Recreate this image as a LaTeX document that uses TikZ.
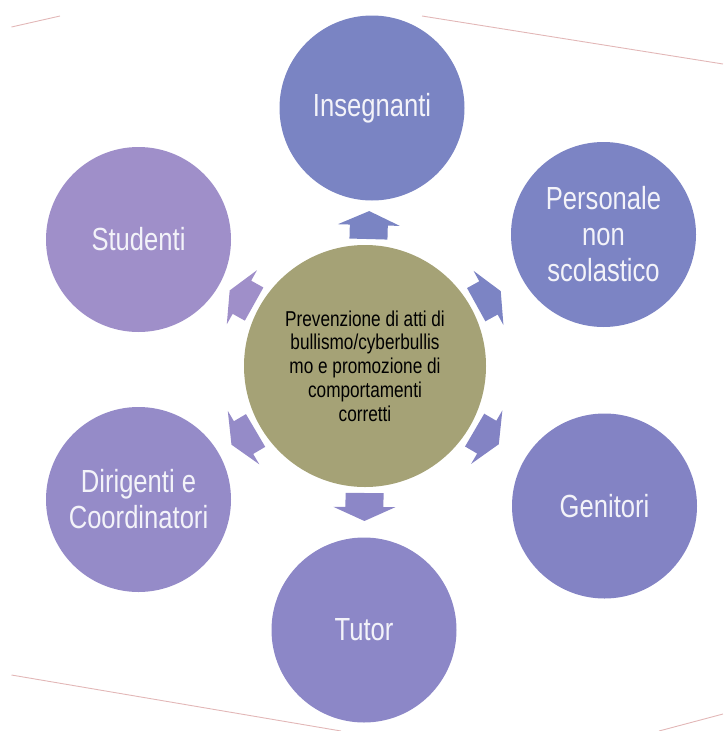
\documentclass[tikz,border=0pt]{standalone}
\usepackage{fontspec}
\usetikzlibrary{calc}

\newfontfamily\narrowfont[FakeStretch=0.8]{Liberation Sans}
\newfontfamily\ctrfont[FakeStretch=0.8]{Liberation Sans}

\definecolor{colIns}{HTML}{7A84C3}
\definecolor{colPer}{HTML}{7C84C4}
\definecolor{colGen}{HTML}{8383C4}
\definecolor{colTut}{HTML}{8C87C7}
\definecolor{colDir}{HTML}{958BC8}
\definecolor{colStu}{HTML}{9F8FC9}
\definecolor{colCtr}{HTML}{A5A276}
\definecolor{colTxt}{HTML}{F3F3F9}
\definecolor{colDeco}{HTML}{E2B7B7}

\tikzset{
  outer/.style={circle, minimum size=185pt, inner sep=0pt, align=center,
    text=colTxt, font=\narrowfont\fontsize{32}{36}\selectfont},
  centre/.style={circle, minimum size=242pt, inner sep=0pt, align=center,
    fill=colCtr, text=black, font=\ctrfont\fontsize{21.5}{23.8}\selectfont},
  deco/.style={colDeco, line width=0.9pt}
}

\begin{document}
\begin{tikzpicture}[x=1pt, y=-1pt]

\useasboundingbox (0,0) rectangle (723,731);

% background frame lines
  \draw[deco] (11.5,27) -- (60,16);
  \draw[deco] (422,16) -- (723,64);
  \draw[deco] (11.5,675) -- (341,731);
  \draw[deco] (659,731) -- (723,714);

% centre
  \node[centre] (ctr) at (365,366) {Prevenzione di atti di\\bullismo/cyberbullis\\mo e promozione di\\comportamenti\\corretti};

% outer circles
  \node[outer, fill=colIns] (ins) at (372,108) {Insegnanti};
  \node[outer, fill=colPer] (per) at (603.5,234.5) {Personale\\non\\scolastico};
  \node[outer, fill=colGen] (gen) at (604.5,506) {Genitori};
  \node[outer, fill=colTut] (tut) at (364,630) {Tutor};
  \node[outer, fill=colDir] (dir) at (138.5,499.5) {Dirigenti e\\Coordinatori};
  \node[outer, fill=colStu] (stu) at (138.5,239.5) {Studenti};

% block arrows
  \foreach \nd/\col in {ins/colIns, per/colPer, gen/colGen, tut/colTut, dir/colDir, stu/colStu}{
    \coordinate (a0) at ($(ctr)!127pt!(\nd)$);
    \coordinate (a1) at ($(ctr)!141pt!(\nd)$);
    \coordinate (a2) at ($(ctr)!155pt!(\nd)$);
    \fill[\col] ($(a0)!19pt!90:(\nd)$) -- ($(a1)!19pt!90:(\nd)$) -- ($(a1)!31pt!90:(\nd)$)
      -- (a2) -- ($(a1)!31pt!-90:(\nd)$) -- ($(a1)!19pt!-90:(\nd)$) -- ($(a0)!19pt!-90:(\nd)$) -- cycle;
  }

\end{tikzpicture}
\end{document}
